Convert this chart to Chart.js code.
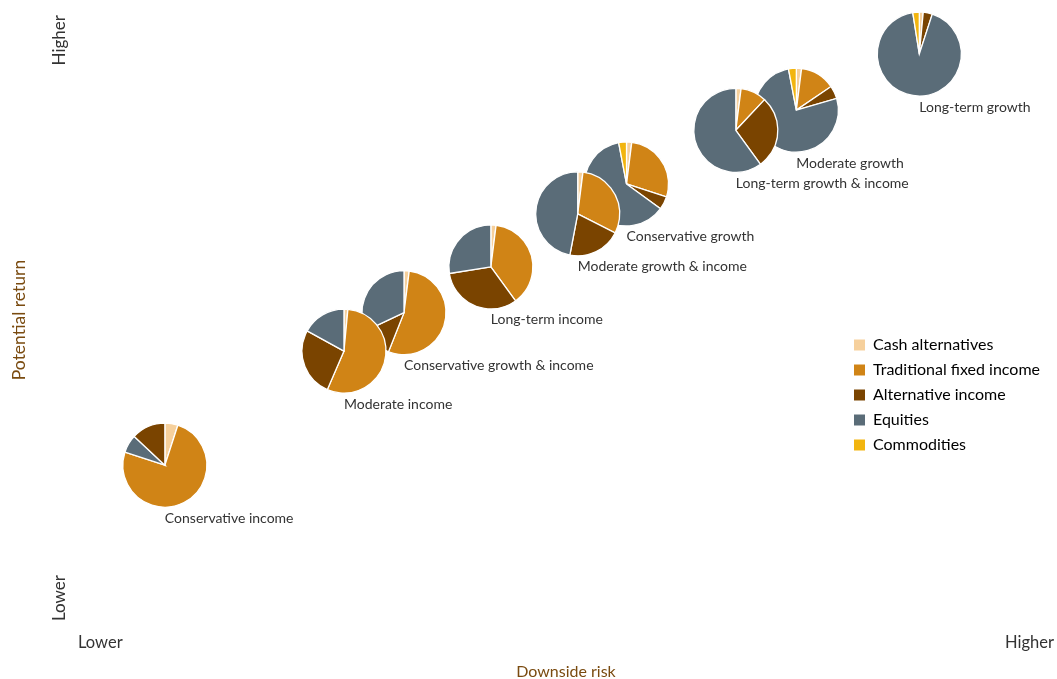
<!DOCTYPE html>
<html><head><meta charset="utf-8">
<script src="https://cdn.jsdelivr.net/npm/chart.js@4.4.0/dist/chart.umd.min.js"></script>
<style>html,body{margin:0;padding:0;background:#fff;} #wrap{width:1057px;height:679px;position:relative;}</style>
</head><body><div id="wrap"><canvas id="c"></canvas></div>
<script>
// ---- data ----
const portfolios = ['Conservative income','Moderate income','Conservative growth & income','Long-term income','Moderate growth & income','Conservative growth','Long-term growth & income','Moderate growth','Long-term growth'];
const downsideRisk    = [8.9, 27.25, 33.4, 42.3, 51.2, 56.2, 67.4, 73.6, 86.2];
const potentialReturn = [26.2, 44.9, 51.2, 58.7, 67.4, 72.3, 81.1, 84.4, 93.6];
const assetClasses = ['Cash alternatives','Traditional fixed income','Alternative income','Equities','Commodities'];
const cashAlternatives       = [5, 1.5, 2, 2, 2, 2, 2, 2, 1.5];
const traditionalFixedIncome = [75, 55, 54, 38, 30.5, 28, 10, 13.5, 0];
const alternativeIncome      = [13, 26.5, 12, 32.5, 20.5, 5, 28, 5, 3.5];
const equities               = [7, 17, 32, 27.5, 47, 62, 60, 76.5, 92.5];
const commodities            = [0, 0, 0, 0, 0, 3, 0, 3, 2.5];
const equitiesBeforeAltIncome = ['Conservative income'];
const xTickLabels = ['Lower','Higher'];
const yTickLabels = ['Lower','Higher'];
const xTickValues = [0, 100];
const yTickValues = [8.2, 100];

// ---- style ----
const assetColors = ['#f6d09c','#d08416','#7a4400','#5a6c78','#f2b50f'];
const pieRadius = 42;
const labelOffset = 53;
const FONT = 'Lato, "Noto Sans", sans-serif';
const assetValues = [cashAlternatives, traditionalFixedIncome, alternativeIncome, equities, commodities];

const piePlugin = {
  id: 'pies',
  afterLayout(chart) {
    const lg = chart.legend;
    if (!lg) return;
    lg.left = 845; lg.top = 328;
    lg.right = lg.left + lg.width; lg.bottom = lg.top + lg.height;
    if (lg.adjustHitBoxes) lg.adjustHitBoxes();
  },
  afterDatasetsDraw(chart) {
    const meta = chart.getDatasetMeta(0);
    const ctx = chart.ctx;
    ctx.save();
    for (let i = portfolios.length - 1; i >= 0; i--) {
      const pt = meta.data[i];
      const cx = pt.x, cy = pt.y;
      const order = equitiesBeforeAltIncome.includes(portfolios[i]) ? [0,1,3,2,4] : [0,1,2,3,4];
      let total = 0;
      order.forEach(k => total += assetValues[k][i]);
      let a = -Math.PI / 2;
      for (const k of order) {
        const v = assetValues[k][i];
        if (!v) continue;
        const a2 = a + v / total * Math.PI * 2;
        ctx.beginPath();
        ctx.moveTo(cx, cy);
        ctx.arc(cx, cy, pieRadius, a, a2);
        ctx.closePath();
        ctx.fillStyle = assetColors[k];
        ctx.fill();
        ctx.lineWidth = 1.3;
        ctx.strokeStyle = '#ffffff';
        ctx.stroke();
        a = a2;
      }
    }
    ctx.fillStyle = '#333333';
    ctx.font = '14px ' + FONT;
    ctx.textAlign = 'left';
    ctx.textBaseline = 'middle';
    for (let i = 0; i < portfolios.length; i++) {
      const pt = meta.data[i];
      ctx.fillText(portfolios[i], pt.x, pt.y + labelOffset);
    }
    ctx.restore();
  }
};

new Chart(document.getElementById('c'), {
  type: 'scatter',
  data: {
    datasets: [{
      label: 'Portfolios',
      data: downsideRisk.map((x, i) => ({x, y: potentialReturn[i]})),
      pointRadius: 0, pointHoverRadius: 0, showLine: false
    }]
  },
  options: {
    responsive: true, maintainAspectRatio: false, animation: false,
    layout: { padding: { top: 15, right: 3, left: 0, bottom: 0 } },
    plugins: {
      tooltip: { enabled: false },
      legend: {
        position: 'chartArea', align: 'start',
        onClick: () => {},
        labels: {
          boxWidth: 11, boxHeight: 11, padding: 9, color: '#333333',
          font: { family: FONT, size: 16 },
          generateLabels: () => assetClasses.map((t, k) => ({
            text: t, fillStyle: assetColors[k], strokeStyle: assetColors[k], lineWidth: 0, hidden: false, datasetIndex: 0, index: k
          }))
        }
      }
    },
    scales: {
      x: {
        type: 'linear', min: 0, max: 100,
        grid: { display: false, drawTicks: false }, border: { display: false },
        afterBuildTicks: s => { s.ticks = xTickValues.map(v => ({value: v})); },
        afterFit: s => { s.height = 54; s.paddingLeft = 0; s.paddingRight = 0; },
        ticks: { align: 'inner', padding: 8, color: '#333333', font: { family: FONT, size: 16.5 },
          callback: (v, i) => xTickLabels[i] },
        title: { display: true, text: 'Downside risk', color: '#7a4b10', font: { family: FONT, size: 16 }, padding: { top: 0, bottom: -2 } }
      },
      y: {
        type: 'linear', min: 0, max: 100,
        grid: { display: false, drawTicks: false }, border: { display: false },
        afterBuildTicks: s => { s.ticks = yTickValues.map(v => ({value: v})); },
        afterFit: s => { s.width = 78; s.paddingTop = 0; s.paddingBottom = 0; },
        ticks: { minRotation: 90, maxRotation: 90, padding: 18, color: '#333333', font: { family: FONT, size: 17 },
          callback: (v, i) => yTickLabels[i] },
        title: { display: true, text: 'Potential return', color: '#7a4b10', font: { family: FONT, size: 17.5 }, padding: { top: 8.5, bottom: 0 } }
      }
    }
  },
  plugins: [piePlugin]
});
</script>
</body></html>
